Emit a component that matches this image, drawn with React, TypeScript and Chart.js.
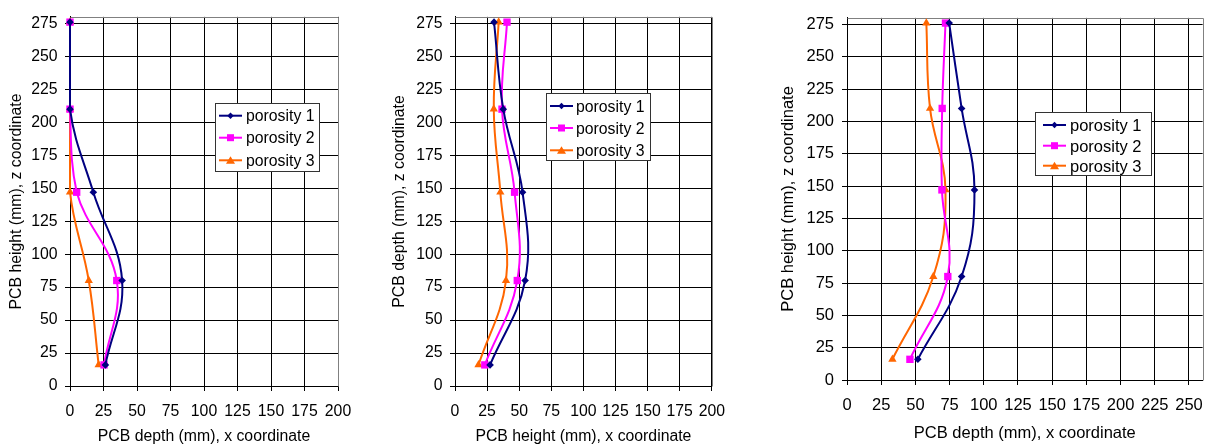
import React, { useEffect, useRef } from "react";
import { Chart, registerables } from "chart.js";

Chart.register(...registerables);

// ---------- data ----------
const seriesNames = ["porosity 1", "porosity 2", "porosity 3"];
const zCoords = [16, 80, 147, 210, 276];
const yTickValues = [0, 25, 50, 75, 100, 125, 150, 175, 200, 225, 250, 275];
const xTickValues200 = [0, 25, 50, 75, 100, 125, 150, 175, 200];
const xTickValues250 = [0, 25, 50, 75, 100, 125, 150, 175, 200, 225, 250];

// chart A: PCB depth vs height
const depthA_p1 = [26.4, 38.9, 17.4, 0, 0];
const depthA_p2 = [25.4, 34.9, 5, 0, 0];
const depthA_p3 = [21.4, 14, 0, 0, 0];
// chart B: PCB height vs depth
const heightB_p1 = [27.3, 54.6, 52.6, 37.6, 30.4];
const heightB_p2 = [23.2, 48.5, 46.4, 36.6, 40.5];
const heightB_p3 = [18.3, 39.7, 35.3, 30.2, 34];
// chart C: PCB depth vs height
const depthC_p1 = [51.8, 83.8, 93.2, 83.8, 74.7];
const depthC_p2 = [46, 73.7, 69.4, 69.6, 72];
const depthC_p3 = [33.2, 63.1, 72, 60.7, 58];

// ---------- styles ----------
const FONT = "'Liberation Sans', Arial, Helvetica, sans-serif";
const seriesStyles = [
  { color: "#000080", pointStyle: "rectRot", radius: 3.8 },
  { color: "#FF00FF", pointStyle: "rect", radius: 5.2 },
  { color: "#FF6600", pointStyle: "triangle", radius: 4.8 },
];
const H = 448;

const borderPlugin = {
  id: "plotBorder",
  beforeDatasetsDraw(chart: any) {
    const { ctx, chartArea: a } = chart;
    ctx.save();
    ctx.strokeStyle = "#808080";
    ctx.lineWidth = 1;
    ctx.beginPath();
    const l = Math.round(a.left) + 0.5;
    const t = Math.round(a.top) + 0.5;
    const r = Math.round(a.right) + 0.5;
    const b = Math.round(a.bottom) + 0.5;
    ctx.moveTo(l, t);
    ctx.lineTo(r, t);
    ctx.lineTo(r, b);
    ctx.stroke();
    ctx.restore();
  },
};

type PanelProps = {
  left: number;
  width: number;
  plotLeft: number;
  plotRight: number;
  plotTop: number;
  plotBottom: number;
  xMax: number;
  xTicks: number[];
  xTitle: string;
  yTitle: string;
  values: number[][];
  fontSize: number;
  yTitleX: number;
  xTitleY: number;
  xTickPad: number;
  yTickPad: number;
};

function Panel(p: PanelProps) {
  const ref = useRef<HTMLCanvasElement | null>(null);
  useEffect(() => {
    if (!ref.current) return;
    const lh = p.fontSize * 1.2;
    const font = { family: FONT, size: p.fontSize, lineHeight: 1.2 };
    const datasets = seriesNames.map((name, i) => ({
      label: name,
      data: zCoords.map((z, k) => ({ x: p.values[i][k], y: z })),
      showLine: true,
      borderColor: seriesStyles[i].color,
      backgroundColor: seriesStyles[i].color,
      borderWidth: 2,
      pointStyle: seriesStyles[i].pointStyle,
      pointRadius: seriesStyles[i].radius,
      pointBorderWidth: 0,
      pointBackgroundColor: seriesStyles[i].color,
      tension: 0.4,
      clip: false,
    }));
    const chart = new Chart(ref.current, {
      type: "scatter",
      data: { datasets } as any,
      plugins: [borderPlugin],
      options: {
        animation: false,
        responsive: false,
        maintainAspectRatio: false,
        layout: {
          padding: {
            left: 0,
            bottom: 0,
            top: p.plotTop,
            right: p.width - (p.plotRight - p.left),
          },
        },
        plugins: { legend: { display: false }, tooltip: { enabled: false } },
        scales: {
          x: {
            type: "linear",
            position: "bottom",
            min: 0,
            max: p.xMax,
            afterBuildTicks: (s: any) => {
              s.ticks = p.xTicks.map((v) => ({ value: v }));
            },
            afterFit: (s: any) => {
              s.height = H - p.plotBottom;
            },
            grid: { color: "#000", lineWidth: 1, tickLength: 5, drawTicks: true },
            border: { display: true, color: "#000", width: 1 },
            ticks: { font, color: "#000", padding: p.xTickPad, maxRotation: 0, autoSkip: false },
            title: {
              display: true,
              text: p.xTitle,
              font,
              color: "#000",
              padding: { top: 0, bottom: H - p.xTitleY - lh / 2 },
            },
          },
          y: {
            type: "linear",
            min: 0,
            max: 280,
            afterBuildTicks: (s: any) => {
              s.ticks = yTickValues.map((v) => ({ value: v }));
            },
            afterFit: (s: any) => {
              s.width = p.plotLeft - p.left;
            },
            grid: { color: "#000", lineWidth: 1, tickLength: 5, drawTicks: true },
            border: { display: true, color: "#000", width: 1 },
            ticks: { font, color: "#000", padding: p.yTickPad, autoSkip: false },
            title: {
              display: true,
              text: p.yTitle,
              font,
              color: "#000",
              padding: { top: p.yTitleX - p.left - lh / 2, bottom: 0 },
            },
          },
        },
      } as any,
    });
    return () => chart.destroy();
  }, []);
  return (
    <canvas
      ref={ref}
      width={p.width}
      height={H}
      style={{ position: "absolute", left: p.left, top: 0, width: p.width, height: H }}
    />
  );
}

type LegendSpec = {
  x0: number;
  y0: number;
  x1: number;
  y1: number;
  rows: number[];
  lineX0: number;
  lineX1: number;
  textX: number;
  fontSize: number;
};

const legends: LegendSpec[] = [
  { x0: 215, y0: 103, x1: 319, y1: 171, rows: [115.7, 137.7, 160.3], lineX0: 219, lineX1: 242, textX: 246, fontSize: 15.8 },
  { x0: 546, y0: 93, x1: 650, y1: 160, rows: [106, 128, 150.3], lineX0: 550, lineX1: 573, textX: 576, fontSize: 15.8 },
  { x0: 1035, y0: 112, x1: 1151, y1: 175, rows: [125, 145.7, 165.7], lineX0: 1043, lineX1: 1066, textX: 1070, fontSize: 16.5 },
];

function Marker({ kind, cx, cy, color }: { kind: number; cx: number; cy: number; color: string }) {
  if (kind === 0) {
    const r = 3.2;
    return <polygon points={`${cx},${cy - r} ${cx + r},${cy} ${cx},${cy + r} ${cx - r},${cy}`} fill={color} />;
  }
  if (kind === 1) {
    return <rect x={cx - 3.5} y={cy - 3.5} width={7} height={7} fill={color} />;
  }
  return <polygon points={`${cx},${cy - 4} ${cx + 4.5},${cy + 3.5} ${cx - 4.5},${cy + 3.5}`} fill={color} />;
}

function Legends() {
  return (
    <svg
      width={1214}
      height={H}
      style={{ position: "absolute", left: 0, top: 0, pointerEvents: "none" }}
    >
      {legends.map((l, li) => (
        <g key={li}>
          <rect
            x={l.x0 + 0.5}
            y={l.y0 + 0.5}
            width={l.x1 - l.x0}
            height={l.y1 - l.y0}
            fill="#fff"
            stroke="#333"
            strokeWidth={1}
          />
          {seriesNames.map((name, i) => {
            const cy = l.rows[i];
            const cx = (l.lineX0 + l.lineX1) / 2;
            return (
              <g key={i}>
                <line x1={l.lineX0} y1={cy} x2={l.lineX1} y2={cy} stroke={seriesStyles[i].color} strokeWidth={2} />
                <Marker kind={i} cx={cx} cy={cy} color={seriesStyles[i].color} />
                <text
                  x={l.textX}
                  y={cy}
                  dominantBaseline="central"
                  fontFamily={FONT}
                  fontSize={l.fontSize}
                  fill="#000"
                >
                  {name}
                </text>
              </g>
            );
          })}
        </g>
      ))}
    </svg>
  );
}

export default function App() {
  return (
    <div style={{ position: "fixed", left: 0, top: 0, width: 1214, height: H, background: "#fff", overflow: "hidden" }}>
      <Panel
        left={0}
        width={364}
        plotLeft={70}
        plotRight={338}
        plotTop={11}
        plotBottom={386}
        xMax={200}
        xTicks={xTickValues200}
        xTitle="PCB depth (mm), x coordinate"
        yTitle="PCB height (mm), z coordinate"
        values={[depthA_p1, depthA_p2, depthA_p3]}
        fontSize={15.8}
        yTitleX={17}
        xTitleY={437}
        xTickPad={11}
        yTickPad={7.4}
      />
      <Panel
        left={380}
        width={356}
        plotLeft={455}
        plotRight={717}
        plotTop={11}
        plotBottom={386}
        xMax={200}
        xTicks={xTickValues200}
        xTitle="PCB height (mm), x coordinate"
        yTitle="PCB depth (mm), z coordinate"
        values={[heightB_p1, heightB_p2, heightB_p3]}
        fontSize={15.8}
        yTitleX={400}
        xTitleY={437}
        xTickPad={11}
        yTickPad={7.4}
      />
      <Panel
        left={770}
        width={444}
        plotLeft={847}
        plotRight={1207}
        plotTop={12}
        plotBottom={380}
        xMax={260}
        xTicks={xTickValues250}
        xTitle="PCB depth (mm), x coordinate"
        yTitle="PCB height (mm), z coordinate"
        values={[depthC_p1, depthC_p2, depthC_p3]}
        fontSize={16.5}
        yTitleX={788}
        xTitleY={433}
        xTickPad={11}
        yTickPad={8}
      />
      <Legends />
    </div>
  );
}
